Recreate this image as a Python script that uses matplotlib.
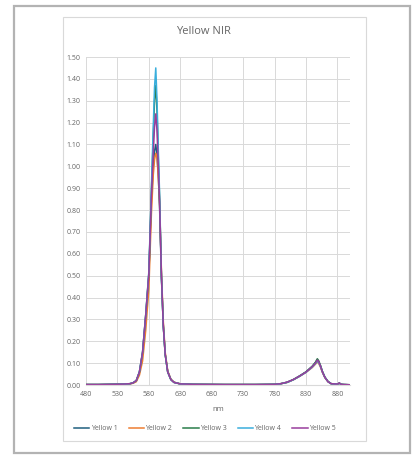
import matplotlib.pyplot as plt
from matplotlib.patches import Rectangle

# wavelength samples (nm) shared by all five spectra
wavelength = [480, 500, 520, 540, 550, 555, 560, 565, 570, 575, 580, 584, 587, 589,
              591, 593, 595, 597, 600, 603, 606, 610, 615, 620, 630, 650, 700, 750,
              780, 790, 800, 810, 820, 830, 840, 845, 848, 850, 853, 856, 860, 865,
              870, 880, 883, 886, 890, 900]

yellow_1 = [0.002, 0.002, 0.003, 0.004, 0.006, 0.010, 0.020, 0.058, 0.145, 0.31, 0.50,
            0.84, 1.00, 1.07, 1.10, 1.05, 0.96, 0.82, 0.49, 0.27, 0.14, 0.060, 0.025,
            0.012, 0.005, 0.003, 0.002, 0.002, 0.003, 0.006, 0.013, 0.025, 0.042, 0.060,
            0.085, 0.102, 0.115, 0.108, 0.088, 0.062, 0.036, 0.016, 0.006, 0.004, 0.009,
            0.003, 0.002, 0.001]
yellow_2 = [0.002, 0.002, 0.003, 0.004, 0.005, 0.008, 0.015, 0.045, 0.110, 0.25, 0.44,
            0.78, 0.96, 1.03, 1.06, 1.04, 0.95, 0.84, 0.52, 0.29, 0.15, 0.065, 0.027,
            0.013, 0.005, 0.003, 0.002, 0.002, 0.003, 0.006, 0.012, 0.024, 0.040, 0.058,
            0.080, 0.095, 0.105, 0.100, 0.082, 0.058, 0.034, 0.015, 0.006, 0.004, 0.008,
            0.003, 0.002, 0.001]
yellow_3 = [0.002, 0.002, 0.003, 0.004, 0.006, 0.010, 0.020, 0.060, 0.150, 0.32, 0.51,
            0.88, 1.13, 1.30, 1.37, 1.25, 1.04, 0.86, 0.50, 0.27, 0.14, 0.060, 0.025,
            0.012, 0.005, 0.003, 0.002, 0.002, 0.003, 0.006, 0.012, 0.025, 0.041, 0.060,
            0.086, 0.104, 0.120, 0.112, 0.090, 0.063, 0.036, 0.016, 0.006, 0.004, 0.008,
            0.003, 0.002, 0.001]
yellow_4 = [0.002, 0.002, 0.003, 0.004, 0.006, 0.010, 0.020, 0.060, 0.150, 0.32, 0.52,
            0.90, 1.18, 1.36, 1.45, 1.30, 1.08, 0.88, 0.50, 0.27, 0.14, 0.060, 0.025,
            0.012, 0.005, 0.003, 0.002, 0.002, 0.003, 0.006, 0.012, 0.024, 0.040, 0.058,
            0.082, 0.098, 0.108, 0.104, 0.085, 0.060, 0.035, 0.015, 0.006, 0.004, 0.008,
            0.003, 0.002, 0.001]
yellow_5 = [0.002, 0.002, 0.003, 0.004, 0.006, 0.010, 0.020, 0.060, 0.150, 0.32, 0.51,
            0.86, 1.06, 1.18, 1.24, 1.16, 1.00, 0.84, 0.50, 0.27, 0.14, 0.060, 0.025,
            0.012, 0.005, 0.003, 0.002, 0.002, 0.003, 0.006, 0.013, 0.025, 0.041, 0.059,
            0.084, 0.100, 0.114, 0.108, 0.087, 0.061, 0.035, 0.015, 0.006, 0.004, 0.009,
            0.003, 0.002, 0.001]

series_names = ['Yellow 1', 'Yellow 2', 'Yellow 3', 'Yellow 4', 'Yellow 5']
series_values = [yellow_1, yellow_2, yellow_3, yellow_4, yellow_5]
colors = ['#1f5f7e', '#ed7d31', '#2a7d4a', '#3aaedc', '#993d9c']

x_ticks = [480, 530, 580, 630, 680, 730, 780, 830, 880]
y_ticks = [i / 10 for i in range(16)]

plt.rcParams['font.family'] = ['Open Sans', 'DejaVu Sans']
text_grey = '#666666'
grid_grey = '#d9d9d9'

W, H = 417, 455
fig = plt.figure(figsize=(W / 100, H / 100), dpi=100)

# outer page border and inner chart frame
fig.patches.append(Rectangle((14 / W, 1 - 453 / H), 396 / W, 447 / H, transform=fig.transFigure,
                             fill=False, edgecolor='#b3b3b3', linewidth=1.6))
fig.patches.append(Rectangle((63 / W, 1 - 441 / H), 303 / W, 424 / H, transform=fig.transFigure,
                             fill=False, edgecolor=grid_grey, linewidth=0.8))

ax = fig.add_axes([86 / W, 1 - 385 / H, 264 / W, 328 / H])

for name, vals, c in zip(series_names, series_values, colors):
    ax.plot(wavelength, vals, color=c, linewidth=1.1, label=name)

ax.set_xlim(480, 900)
ax.set_ylim(0, 1.5)
ax.set_xticks(x_ticks)
ax.set_yticks(y_ticks)
ax.set_yticklabels(['%.2f' % v for v in y_ticks])
ax.grid(True, color=grid_grey, linewidth=0.7)
ax.set_axisbelow(True)
for s in ['top', 'right', 'left']:
    ax.spines[s].set_visible(False)
ax.spines['bottom'].set_color(grid_grey)
ax.tick_params(length=0, labelsize=5, labelcolor=text_grey, pad=4)

ax.set_xlabel('nm', fontsize=5.5, color=text_grey, labelpad=6)
fig.text(203 / W, 1 - 32 / H, 'Yellow NIR', ha='center', va='center', fontsize=8, color=text_grey)

fig.legend(loc='center', bbox_to_anchor=(205 / W, 1 - 429 / H), ncol=5, frameon=False,
           fontsize=5, labelcolor=text_grey, handlelength=2.2, handletextpad=0.2,
           columnspacing=1.6)

fig.savefig('out.png', dpi=100)
